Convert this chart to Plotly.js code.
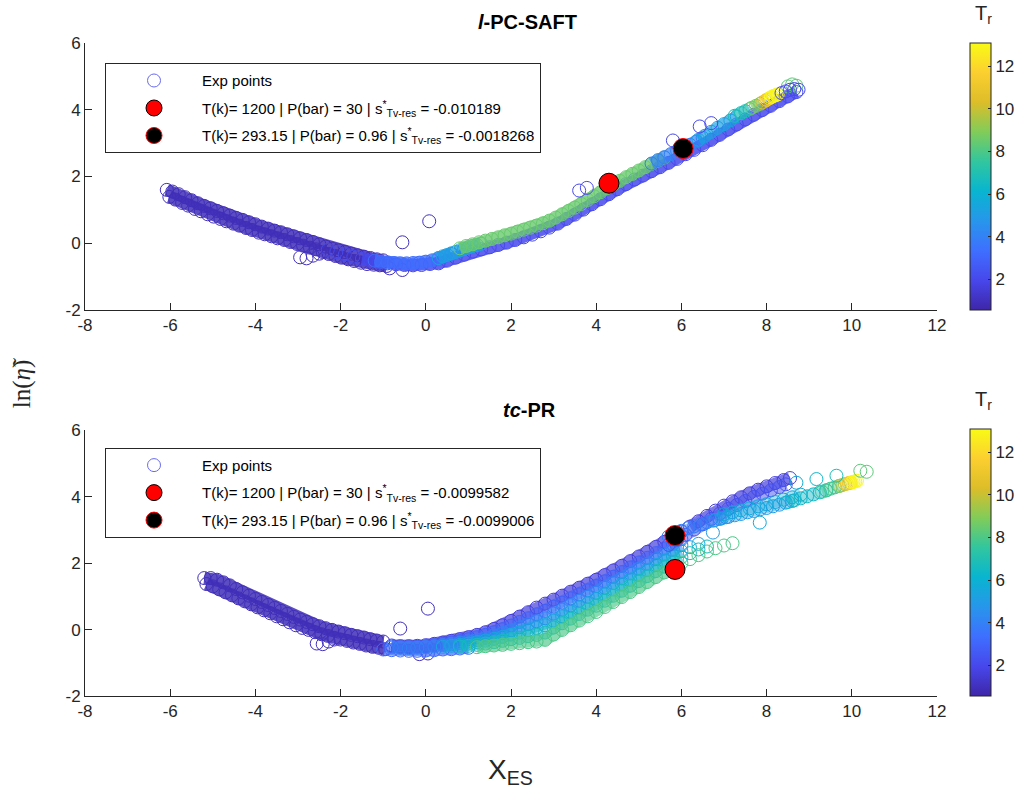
<!DOCTYPE html>
<html><head><meta charset="utf-8">
<script src="https://cdn.plot.ly/plotly-3.0.1.min.js"></script>
<style>html,body{margin:0;padding:0;background:#fff}#chart{width:1034px;height:799px}</style>
</head><body><div id="chart"></div>
<script>
// ---------------- axis ticks ----------------
const xTickVals = [-8,-6,-4,-2,0,2,4,6,8,10,12];
const xTickText = ['-8','-6','-4','-2','0','2','4','6','8','10','12'];
const yTickVals = [-2,0,2,4,6];
const yTickText = ['-2','0','2','4','6'];
const trTickVals = [2,4,6,8,10,12];
const trMin = 0.55, trMax = 13.1;

// ---------------- legend labels ----------------
const expLabel = 'Exp points';
const topRedLabel = 'T(k)= 1200 | P(bar) = 30 | s<sup>*</sup><sub>Tv-res</sub> = -0.010189';
const topBlackLabel = 'T(k)= 293.15 | P(bar) = 0.96 | s<sup>*</sup><sub>Tv-res</sub> = -0.0018268';
const botRedLabel = 'T(k)= 1200 | P(bar) = 30 | s<sup>*</sup><sub>Tv-res</sub> = -0.0099582';
const botBlackLabel = 'T(k)= 293.15 | P(bar) = 0.96 | s<sup>*</sup><sub>Tv-res</sub> = -0.0099006';

// ---------------- highlighted points ----------------
const topRedX = [4.3],  topRedY = [1.8];
const topBlackX = [6.04], topBlackY = [2.84];
const botRedX = [5.85], botRedY = [1.81];
const botBlackX = [5.85], botBlackY = [2.83];

// ---------------- top panel (l-PC-SAFT) ----------------
const topLiqAX = [-6.08,-5.95,-5.8,-5.65,-5.5,-5.35,-5.2,-5.05,-4.9,-4.75,-4.6,-4.45,-4.3,-4.15,-4.0,-3.85,-3.7,-3.55,-3.4,-3.25,-3.1,-2.95,-2.8,-2.65,-2.5,-2.35,-2.2,-2.05,-1.9,-1.75,-1.6,-1.45,-1.3,-1.15,-1.0];
const topLiqAY = [1.6,1.55,1.47,1.38,1.29,1.2,1.12,1.05,0.97,0.9,0.83,0.76,0.7,0.63,0.57,0.5,0.44,0.38,0.33,0.27,0.21,0.15,0.1,0.04,-0.03,-0.1,-0.16,-0.21,-0.26,-0.31,-0.36,-0.4,-0.44,-0.48,-0.51];
const topLiqBX = [-6.02,-5.88,-5.72,-5.58,-5.42,-5.28,-5.12,-4.98,-4.82,-4.68,-4.52,-4.38,-4.22,-4.08,-3.92,-3.78,-3.62,-3.48,-3.32,-3.18,-3.02,-2.88,-2.72,-2.58,-2.42,-2.28,-2.12,-1.98,-1.82,-1.68,-1.52,-1.38,-1.22,-1.08,-0.92];
const topLiqBY = [1.39,1.31,1.21,1.13,1.03,0.96,0.87,0.8,0.73,0.66,0.59,0.53,0.46,0.4,0.32,0.27,0.21,0.15,0.1,0.04,-0.02,-0.07,-0.13,-0.18,-0.26,-0.32,-0.38,-0.43,-0.48,-0.53,-0.58,-0.62,-0.64,-0.66,-0.68];
const topLiqTr = 0.9;
const topOutX = [-2.95,-2.8,-2.65,-2.5,-0.55,0.08,-0.85,-0.55];
const topOutY = [-0.42,-0.45,-0.37,-0.31,0.03,0.66,-0.75,-0.8];
const topOutTr = 1.0;
const topBlueX = [-1.5,-1.3,-1.1,-0.9,-0.7,-0.5,-0.3,-0.1,0.1,0.3,0.5,0.7,0.9,1.1,1.3,1.5,1.7,1.9,2.1,2.3,2.5,2.7,2.9,3.1,3.3,3.5,3.7,3.9,4.1,4.3,4.5,4.7,4.9,5.1,5.3,5.5,5.7,5.9,6.1,6.3,6.5,6.7,6.9,7.1,7.3,7.5,7.7,7.9,8.1,8.3,8.5,8.7];
const topBlueY = [-0.47,-0.52,-0.56,-0.6,-0.63,-0.65,-0.66,-0.65,-0.62,-0.6,-0.52,-0.43,-0.34,-0.25,-0.18,-0.12,-0.05,0.02,0.1,0.18,0.26,0.36,0.47,0.59,0.73,0.86,1.01,1.17,1.32,1.47,1.62,1.77,1.91,2.03,2.16,2.28,2.41,2.53,2.67,2.8,2.94,3.1,3.25,3.41,3.56,3.71,3.85,3.99,4.12,4.26,4.4,4.53];
const topBlueTr = 2.0;
const topLBX = [-1.2,-1.05,-0.9,-0.75,-0.6,-0.45,-0.3,-0.15,0,0.15,0.3,0.45,0.6];
const topLBY = [-0.52,-0.55,-0.57,-0.59,-0.6,-0.6,-0.59,-0.58,-0.55,-0.51,-0.45,-0.39,-0.32];
const topLBTr = 3.3;
const topCyX = [0.3,0.4,0.5,0.6,0.7,0.8,0.9,1.0,1.1,1.2,1.3];
const topCyY = [-0.44,-0.39,-0.35,-0.3,-0.26,-0.21,-0.17,-0.12,-0.08,-0.05,-0.01];
const topCyTr = 5.2;
const topGrX = [0.8,0.95,1.1,1.25,1.4,1.55,1.7,1.85,2.0,2.15,2.3,2.45,2.6,2.75,2.9,3.05,3.2,3.35,3.5,3.65,3.8,3.95,4.1,4.25,4.4,4.55,4.7,4.85,5.0,5.15,5.3,5.45,5.6];
const topGrY = [-0.15,-0.08,-0.03,0.03,0.08,0.13,0.18,0.24,0.29,0.35,0.41,0.47,0.53,0.6,0.68,0.77,0.87,0.97,1.07,1.18,1.3,1.41,1.53,1.65,1.76,1.87,1.98,2.08,2.18,2.28,2.38,2.48,2.57];
const topGrTr = 8.5;
const topLB2X = [5.3,5.45,5.6,5.75,5.9,6.05,6.2,6.35,6.5];
const topLB2Y = [2.39,2.49,2.58,2.67,2.77,2.86,2.95,3.05,3.16];
const topLB2Tr = 4.0;
const topCy2X = [6.4,6.55,6.7,6.85,7.0,7.15,7.3];
const topCy2Y = [3.1,3.22,3.34,3.46,3.57,3.68,3.8];
const topCy2Tr = 5.2;
const topTealX = [7.25,7.4,7.5,7.6], topTealY = [3.82,3.9,3.96,4.02], topTealTr = 6.8;
const topGr2X = [7.65,7.75,7.85], topGr2Y = [4.06,4.12,4.18], topGr2Tr = 8.8;
const topOlX = [7.9,7.97], topOlY = [4.22,4.27], topOlTr = 10.2;
const topOrX = [8.0,8.06], topOrY = [4.3,4.34], topOrTr = 11.6;
const topYelX = [8.1,8.14,8.18,8.22,8.26], topYelY = [4.37,4.4,4.42,4.44,4.46], topYelTr = 13.0;
const topEndGrX = [8.5,8.6,8.7], topEndGrY = [4.7,4.76,4.72], topEndGrTr = 8.3;
const topEndBlX = [8.35,8.45,8.55,8.65,8.75], topEndBlY = [4.5,4.55,4.6,4.62,4.6], topEndBlTr = 2.0;
const topMidBlX = [-2.3,-2.1,-1.9,-1.7], topMidBlY = [-0.19,-0.26,-0.33,-0.4], topMidBlTr = 2.0;
const topUpOutX = [3.6,3.78,5.8,6.43,6.7], topUpOutY = [1.58,1.66,3.08,3.5,3.6], topUpOutTr = 2.0;

// ---------------- bottom panel (tc-PR) ----------------
const botLiqAX = [-5.2,-5.05,-4.9,-4.75,-4.6,-4.45,-4.3,-4.15,-4.0,-3.85,-3.7,-3.55,-3.4,-3.25,-3.1,-2.95,-2.8,-2.65,-2.5,-2.35,-2.2,-2.05,-1.9,-1.75,-1.6,-1.45,-1.3,-1.15,-1.0];
const botLiqAY = [1.55,1.55,1.5,1.42,1.33,1.22,1.12,1.02,0.92,0.83,0.74,0.65,0.56,0.47,0.38,0.3,0.23,0.16,0.1,0.04,-0.01,-0.06,-0.11,-0.16,-0.2,-0.24,-0.29,-0.33,-0.36];
const botLiqBX = [-5.15,-5.0,-4.85,-4.7,-4.55,-4.4,-4.25,-4.1,-3.95,-3.8,-3.65,-3.5,-3.35,-3.2,-3.05,-2.9,-2.75,-2.6,-2.45,-2.3,-2.15,-2.0,-1.85,-1.7,-1.55,-1.4,-1.25,-1.1,-0.95];
const botLiqBY = [1.37,1.3,1.21,1.12,1.03,0.94,0.85,0.76,0.67,0.58,0.49,0.4,0.31,0.22,0.13,0.05,-0.01,-0.08,-0.14,-0.19,-0.25,-0.3,-0.34,-0.39,-0.43,-0.48,-0.52,-0.55,-0.59];
const botLiqTr = 0.9;
const botOutX = [-2.56,-2.42,-2.28,-2.15,-0.6,0.05,-0.15,0.05];
const botOutY = [-0.42,-0.44,-0.36,-0.3,0.03,0.63,-0.74,-0.72];
const botOutTr = 1.0;
const botLowBlueX = [-1.0,-0.8,-0.6,-0.4,-0.2,0,0.2,0.4,0.6,0.8,1.0];
const botLowBlueY = [-0.6,-0.62,-0.63,-0.64,-0.64,-0.63,-0.62,-0.6,-0.59,-0.57,-0.55];
const botLowBlueTr = 3.2;
const botFanX = [-0.8,-0.6,-0.4,-0.2,0,0.2,0.4,0.6,0.8,1.0,1.2,1.4,1.6,1.8,2.0,2.2,2.4,2.6,2.8,3.0,3.2,3.4,3.6,3.8,4.0,4.2,4.4,4.6,4.8,5.0,5.2,5.4,5.6,5.8,6.0];
const botUY  = [-0.48,-0.5,-0.5,-0.49,-0.47,-0.43,-0.39,-0.34,-0.29,-0.23,-0.16,-0.08,0.02,0.13,0.26,0.39,0.52,0.66,0.78,0.9,1.02,1.14,1.26,1.38,1.5,1.64,1.78,1.92,2.06,2.2,2.34,2.49,2.64,2.8,2.95];
const botUTr = 1.6;
const botM1Y = [-0.51,-0.53,-0.53,-0.52,-0.5,-0.47,-0.43,-0.39,-0.35,-0.29,-0.23,-0.16,-0.08,0.01,0.12,0.23,0.34,0.46,0.56,0.69,0.81,0.94,1.06,1.18,1.31,1.45,1.59,1.73,1.87,2.02,2.16,2.3,2.44,2.58,2.72];
const botM1Tr = 2.8;
const botM2Y = [-0.54,-0.55,-0.56,-0.55,-0.53,-0.51,-0.47,-0.44,-0.4,-0.36,-0.31,-0.25,-0.18,-0.11,-0.02,0.07,0.16,0.25,0.34,0.48,0.6,0.73,0.87,0.99,1.11,1.26,1.4,1.54,1.69,1.83,1.98,2.12,2.26,2.4,2.54];
const botM2Tr = 4.0;
const botM3X = [0.4,0.6,0.8,1.0,1.2,1.4,1.6,1.8,2.0,2.2,2.4,2.6,2.8,3.0,3.2,3.4,3.6,3.8,4.0,4.2,4.4,4.6,4.8,5.0,5.2,5.4,5.6,5.8,6.0];
const botM3Y = [-0.52,-0.49,-0.46,-0.42,-0.38,-0.33,-0.28,-0.22,-0.15,-0.09,-0.02,0.05,0.13,0.27,0.4,0.53,0.67,0.79,0.92,1.06,1.21,1.36,1.5,1.65,1.79,1.94,2.08,2.22,2.36];
const botM3Tr = 5.3;
const botM3ExtX = [6.2,6.4], botM3ExtY = [2.48,2.58];
const botM4X = [0.8,1.0,1.2,1.4,1.6,1.8,2.0,2.2,2.4,2.6,2.8,3.0,3.2,3.4,3.6,3.8,4.0,4.2,4.4,4.6,4.8,5.0,5.2,5.4,5.6,5.8,6.0];
const botM4Y = [-0.51,-0.49,-0.46,-0.42,-0.38,-0.34,-0.29,-0.25,-0.2,-0.16,-0.09,0.06,0.19,0.33,0.47,0.6,0.72,0.87,1.02,1.17,1.32,1.46,1.61,1.76,1.9,2.04,2.18];
const botM4Tr = 6.6;
const botM4ExtX = [6.2,6.4,6.6], botM4ExtY = [2.3,2.41,2.5];
const botLX = [1.2,1.4,1.6,1.8,2.0,2.2,2.4,2.6,2.8,3.0,3.2,3.4,3.6,3.8,4.0,4.2,4.4,4.6,4.8,5.0,5.2,5.4,5.6,5.8,6.0];
const botLY = [-0.53,-0.5,-0.48,-0.46,-0.43,-0.41,-0.38,-0.36,-0.31,-0.15,-0.01,0.13,0.27,0.4,0.53,0.68,0.83,0.98,1.13,1.28,1.43,1.58,1.72,1.86,2.0];
const botLTr = 8.0;
const botLExtX = [6.2,6.4,6.6,6.8,7.0,7.2], botLExtY = [2.12,2.24,2.35,2.45,2.53,2.6];
const botUExtX = [6.2,6.4,6.6,6.8,7.0,7.2,7.4,7.6,7.8,8.0,8.2,8.4,8.55];
const botUExtY = [3.1,3.26,3.42,3.58,3.73,3.86,3.98,4.1,4.21,4.31,4.41,4.5,4.56];
const botUExtTr = 1.6;
const botU2X = [5.7,5.9,6.1,6.3,6.5,6.7,6.9,7.1,7.3,7.5,7.7,7.9,8.1,8.3,8.45];
const botU2Y = [2.55,2.71,2.85,3.01,3.17,3.33,3.49,3.63,3.75,3.87,3.99,4.09,4.19,4.29,4.37];
const botU2Tr = 2.3;
const botHBaX = [5.7,5.85,6.0,6.15,6.3,6.45,6.6,6.75,6.9,7.05];
const botHBaY = [2.8,2.88,2.97,3.05,3.11,3.17,3.23,3.28,3.33,3.38];
const botHBaTr = 3.8;
const botHBbX = [6.8,6.95,7.1,7.25,7.4,7.55,7.7,7.85,8.0,8.15,8.3,8.45,8.6];
const botHBbY = [3.3,3.35,3.39,3.44,3.48,3.53,3.57,3.62,3.66,3.71,3.76,3.82,3.87];
const botHBbTr = 5.0;
const botHBb2X = [7.0,7.2,7.4,7.6,7.8,8.0,8.2,8.4,8.6,8.8];
const botHBb2Y = [3.47,3.53,3.59,3.65,3.71,3.77,3.84,3.91,3.98,4.06];
const botHBb2Tr = 5.6;
const botHBcX = [8.5,8.65,8.8,8.95,9.1,9.25,9.4], botHBcY = [3.84,3.89,3.95,4.01,4.07,4.13,4.19], botHBcTr = 6.4;
const botHBdX = [9.3,9.4,9.5,9.6,9.7], botHBdY = [4.15,4.19,4.24,4.28,4.32], botHBdTr = 7.8;
const botHBeX = [9.72,9.78,9.84], botHBeY = [4.33,4.35,4.38], botHBeTr = 9.6;
const botHBfX = [9.88,9.93,9.97], botHBfY = [4.39,4.41,4.42], botHBfTr = 11.3;
const botHBgX = [10.0,10.04,10.08,10.12], botHBgY = [4.43,4.45,4.46,4.48], botHBgTr = 13.0;
const botHBOutX = [6.74,7.84,8.7,9.17,9.64,10.2,10.35];
const botHBOutY = [2.92,3.22,4.42,4.53,4.63,4.78,4.75];
const botHBOutTr = [5.0,5.6,5.8,6.3,6.8,8.3,8.3];

// ---------------- parula colour map ----------------
const parula = [[0,'#3e26a8'],[0.1111,'#4747eb'],[0.2222,'#3e6fff'],[0.3333,'#2796eb'],[0.4444,'#08b5d0'],
  [0.5556,'#31c69f'],[0.6667,'#81cc59'],[0.7778,'#dcbd29'],[0.8889,'#fccf30'],[1,'#f9fb15']];
function hex2rgb(h){ return [parseInt(h.slice(1,3),16),parseInt(h.slice(3,5),16),parseInt(h.slice(5,7),16)]; }
function parulaAt(tr){
  let t = Math.min(1, Math.max(0, (tr-trMin)/(trMax-trMin)));
  for (let i=1;i<parula.length;i++){
    if (t <= parula[i][0]){
      const a=parula[i-1], b=parula[i], f=(t-a[0])/(b[0]-a[0]);
      const ca=hex2rgb(a[1]), cb=hex2rgb(b[1]);
      return 'rgb('+ca.map((v,k)=>Math.round(v+(cb[k]-v)*f)).join(',')+')';
    }
  }
  return parula[parula.length-1][1];
}

// strand: [xs, ys, Tr (number or list), opacity of the dense-overlap ribbon (0 = none)]
const topStrands = [
  [topLiqAX,topLiqAY,topLiqTr,0.85],[topLiqBX,topLiqBY,topLiqTr,0.85],[topOutX,topOutY,topOutTr,0],
  [topMidBlX,topMidBlY,topMidBlTr,0],
  [topBlueX,topBlueY,topBlueTr,0.85],[topLBX,topLBY,topLBTr,0.8],[topCyX,topCyY,topCyTr,0.8],[topGrX,topGrY,topGrTr,0.8],
  [topLB2X,topLB2Y,topLB2Tr,0.7],[topCy2X,topCy2Y,topCy2Tr,0.7],[topTealX,topTealY,topTealTr,0.7],[topGr2X,topGr2Y,topGr2Tr,0.7],
  [topOlX,topOlY,topOlTr,0.7],[topOrX,topOrY,topOrTr,0.8],[topYelX,topYelY,topYelTr,0.85],[topEndGrX,topEndGrY,topEndGrTr,0],
  [topEndBlX,topEndBlY,topEndBlTr,0],[topUpOutX,topUpOutY,topUpOutTr,0]
];
const botStrands = [
  [botLiqAX,botLiqAY,botLiqTr,0.85],[botLiqBX,botLiqBY,botLiqTr,0.85],[botOutX,botOutY,botOutTr,0],
  [botLowBlueX,botLowBlueY,botLowBlueTr,0.7],
  [botFanX,botUY,botUTr,0.7],[botFanX,botM1Y,botM1Tr,0.55],[botFanX,botM2Y,botM2Tr,0.55],[botM3X,botM3Y,botM3Tr,0.55],
  [botM4X,botM4Y,botM4Tr,0.55],[botLX,botLY,botLTr,0.65],
  [botM3ExtX,botM3ExtY,botM3Tr,0],[botM4ExtX,botM4ExtY,botM4Tr,0],[botLExtX,botLExtY,botLTr,0],
  [botUExtX,botUExtY,botUExtTr,0.7],[botU2X,botU2Y,botU2Tr,0.5],
  [botHBaX,botHBaY,botHBaTr,0.45],[botHBbX,botHBbY,botHBbTr,0.45],[botHBb2X,botHBb2Y,botHBb2Tr,0.35],[botHBcX,botHBcY,botHBcTr,0.45],
  [botHBdX,botHBdY,botHBdTr,0.45],[botHBeX,botHBeY,botHBeTr,0.5],[botHBfX,botHBfY,botHBfTr,0.6],[botHBgX,botHBgY,botHBgTr,0.8],
  [botHBOutX,botHBOutY,botHBOutTr,0]
];

const FONT = 'Liberation Sans, Arial, Helvetica, sans-serif';
const INK = '#262626';
const MS = 13;

function strandTraces(list, xa, ya, cax){
  const out = [];
  list.forEach(([sx,sy,tr,op])=>{
    const cols = sx.map((v,i)=>Array.isArray(tr)?tr[i]:tr);
    if (op > 0 && !Array.isArray(tr)) {
      out.push({type:'scatter', mode:'lines', x:sx, y:sy, xaxis:xa, yaxis:ya, showlegend:false, hoverinfo:'skip',
        opacity:op, line:{color:parulaAt(tr), width:12}});
    }
    out.push({type:'scatter', mode:'markers', x:sx, y:sy, xaxis:xa, yaxis:ya, showlegend:false, hoverinfo:'skip',
      marker:{symbol:'circle-open', size:MS, color:cols, coloraxis:cax, line:{width:1}}});
  });
  return out;
}
function expTrace(xa, ya, lg){
  return {type:'scatter', mode:'markers', x:[null], y:[null], xaxis:xa, yaxis:ya, name:expLabel, legend:lg, legendgroup:lg+'a',
    marker:{symbol:'circle-open', size:MS, color:'#6a6af0', line:{width:1}}};
}
function dotTrace(x, y, xa, ya, name, fill, edge, lg, grp){
  return {type:'scatter', mode:'markers', x:x, y:y, xaxis:xa, yaxis:ya, name:name, legend:lg, legendgroup:lg+grp, hoverinfo:'skip',
    marker:{symbol:'circle', size:20, color:fill, line:{color:edge, width:1}}};
}

const traces = [].concat(
  strandTraces(topStrands,'x','y','coloraxis'),
  [expTrace('x','y','legend'),
   dotTrace(topRedX, topRedY,'x','y',topRedLabel,'#ff0000','#000000','legend','b'),
   dotTrace(topBlackX, topBlackY,'x','y',topBlackLabel,'#000000','#ff0000','legend','c')],
  strandTraces(botStrands,'x2','y2','coloraxis2'),
  [expTrace('x2','y2','legend2'),
   dotTrace(botRedX, botRedY,'x2','y2',botRedLabel,'#ff0000','#000000','legend2','b'),
   dotTrace(botBlackX, botBlackY,'x2','y2',botBlackLabel,'#000000','#ff0000','legend2','c')]
);

function cbar(y, yanchor){
  return {x:1.0387, xanchor:'left', xpad:0, thickness:21, len:0.409, lenmode:'fraction', y:y, yanchor:yanchor, ypad:0,
    outlinewidth:1, outlinecolor:INK, tickvals:trTickVals, ticks:'inside', ticklen:3, tickcolor:INK,
    tickfont:{family:FONT, size:17, color:INK}};
}
function cax(y, yanchor){
  return {colorscale:parula, cmin:trMin, cmax:trMax, colorbar:cbar(y, yanchor)};
}
function xax(anchor){
  return {anchor:anchor, domain:[0,1], range:[-8,12], tickvals:xTickVals, ticktext:xTickText, ticks:'inside', ticklen:7,
    tickcolor:INK, showline:true, linecolor:INK, linewidth:1, mirror:false, showgrid:false, zeroline:false,
    tickfont:{family:FONT, size:17, color:INK}, fixedrange:true};
}
function yax(anchor, domain){
  return {anchor:anchor, domain:domain, range:[-2,6], tickvals:yTickVals, ticktext:yTickText, ticks:'inside', ticklen:7,
    tickcolor:INK, showline:true, linecolor:INK, linewidth:1, mirror:false, showgrid:false, zeroline:false,
    tickfont:{family:FONT, size:17, color:INK}, fixedrange:true};
}
function lg(y){
  return {x:0.0235, y:y, xanchor:'left', yanchor:'top', bgcolor:'#ffffff', bordercolor:INK, borderwidth:1,
    font:{family:FONT, size:15, color:'#000'}, itemwidth:86, traceorder:'grouped', tracegroupgap:5};
}

const layout = {
  width:1034, height:799, margin:{l:85, r:97, t:43, b:103}, paper_bgcolor:'#fff', plot_bgcolor:'#fff',
  font:{family:FONT, color:INK},
  xaxis:xax('y'), yaxis:yax('x',[0.591,1]),
  xaxis2:xax('y2'), yaxis2:yax('x2',[0,0.407]),
  coloraxis:cax(1,'top'), coloraxis2:cax(0,'bottom'),
  legend:lg(0.969), legend2:lg(0.38),
  annotations:[
    {text:'<b><i>l</i>-PC-SAFT</b>', xref:'paper', yref:'paper', x:0.519, y:1.032, xanchor:'center', yanchor:'middle', showarrow:false, font:{family:FONT, size:20, color:'#000'}},
    {text:'<b><i>tc</i>-PR</b>', xref:'paper', yref:'paper', x:0.522, y:0.438, xanchor:'center', yanchor:'middle', showarrow:false, font:{family:FONT, size:20, color:'#000'}},
    {text:'T<sub>r</sub>', xref:'paper', yref:'paper', x:1.054, y:1.043, xanchor:'center', yanchor:'middle', showarrow:false, font:{family:FONT, size:20, color:INK}},
    {text:'T<sub>r</sub>', xref:'paper', yref:'paper', x:1.054, y:0.453, xanchor:'center', yanchor:'middle', showarrow:false, font:{family:FONT, size:20, color:INK}},
    {text:'ln(<i>η̃</i>)', xref:'paper', yref:'paper', x:-0.074, y:0.479, xanchor:'center', yanchor:'middle', textangle:-90, showarrow:false, font:{family:'Liberation Serif, DejaVu Serif, serif', size:25, color:INK}},
    {text:'X<sub>ES</sub>', xref:'paper', yref:'paper', x:0.499, y:-0.116, xanchor:'center', yanchor:'middle', showarrow:false, font:{family:FONT, size:28, color:INK}}
  ]
};

Plotly.newPlot('chart', traces, layout, {displayModeBar:false, staticPlot:true});
</script>
</body></html>
